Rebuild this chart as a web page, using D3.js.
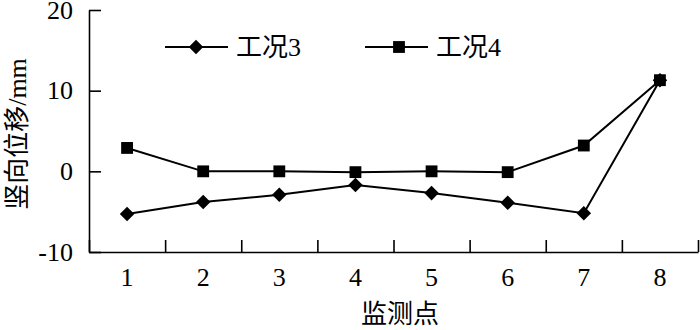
<!DOCTYPE html>
<html>
<head>
<meta charset="utf-8">
<script src="https://cdn.jsdelivr.net/npm/d3@7"></script>
<style>
  body { margin: 0; background: #fff; }
  text { font-family: "Liberation Serif", "Noto Sans CJK SC", serif; fill: #000; }
</style>
</head>
<body>
<div id="chart"></div>
<script>
// monitoring points and the two load cases
const points = ['1', '2', '3', '4', '5', '6', '7', '8'];
const case3 = [-5.3, -3.8, -2.9, -1.7, -2.7, -3.9, -5.2, 11.3];
const case4 = [2.9, 0, 0, -0.1, 0, -0.1, 3.2, 11.3];
const seriesNames = ['工况3', '工况4'];
const yTicks = [-10, 0, 10, 20];

const width = 700, height = 330;
const margin = { top: 10, right: 2, bottom: 78, left: 89 };
const w = width - margin.left - margin.right;
const h = height - margin.top - margin.bottom;
const fs = '26px';

const svg = d3.select('#chart').append('svg')
  .attr('width', width)
  .attr('height', height);

const g = svg.append('g')
  .attr('transform', `translate(${margin.left},${margin.top})`);

const x = d3.scaleBand().domain(points).range([0, w]);
const xEdge = d3.scaleLinear().domain([0, points.length]).range([0, w]);
const y = d3.scaleLinear().domain([-10, 20]).range([h, 0]);

// x axis: ticks on band edges pointing in, labels at band centres
g.append('g')
  .attr('transform', `translate(0,${h})`)
  .call(d3.axisBottom(xEdge).ticks(points.length).tickSizeInner(-12).tickSizeOuter(0).tickFormat(''));
const xLabels = g.append('g')
  .attr('transform', `translate(0,${h})`)
  .call(d3.axisBottom(x).tickSize(0).tickPadding(16));
xLabels.select('.domain').remove();
xLabels.selectAll('text').style('font-size', fs).attr('font-family', null);

const yAxis = g.append('g')
  .call(d3.axisLeft(y).tickValues(yTicks).tickSizeInner(-12).tickSizeOuter(0).tickPadding(16)
    .tickFormat(d => String(d)));
yAxis.selectAll('text').style('font-size', fs).attr('font-family', null);

g.selectAll('.domain, .tick line').attr('stroke', '#000').attr('stroke-width', 1.6);

// axis titles
svg.append('text')
  .attr('x', 400)
  .attr('y', 323)
  .attr('text-anchor', 'middle')
  .style('font-size', fs)
  .text('监测点');

svg.append('text')
  .attr('transform', `translate(26,134) rotate(-90)`)
  .attr('text-anchor', 'middle')
  .style('font-size', fs)
  .text('竖向位移/mm');

const line = d3.line()
  .x((d, i) => x(points[i]) + x.bandwidth() / 2)
  .y(d => y(d));

const diamond = d3.symbol().type(d3.symbolDiamond2).size(135);
const square = d3.symbol().type(d3.symbolSquare).size(140);

const series = [
  { name: seriesNames[0], values: case3, sym: diamond },
  { name: seriesNames[1], values: case4, sym: square }
];

// draw case 4 first so case 3's diamond sits on top at point 8
[series[1], series[0]].forEach(s => {
  g.append('path')
    .attr('d', line(s.values))
    .attr('fill', 'none')
    .attr('stroke', '#000')
    .attr('stroke-width', 2);
  g.selectAll(null)
    .data(s.values)
    .enter().append('path')
    .attr('d', s.sym)
    .attr('transform', (d, i) => `translate(${x(points[i]) + x.bandwidth() / 2},${y(d)})`)
    .attr('fill', '#000');
});

// legend
const legendX = [165, 365];
series.forEach((s, i) => {
  const lg = svg.append('g').attr('transform', `translate(${legendX[i]},47)`);
  lg.append('line')
    .attr('x1', 0).attr('x2', 63)
    .attr('stroke', '#000').attr('stroke-width', 2);
  lg.append('path')
    .attr('d', s.sym)
    .attr('transform', `translate(${i === 0 ? 31 : 34},0)`)
    .attr('fill', '#000');
  lg.append('text')
    .attr('x', 71)
    .attr('y', 9)
    .style('font-size', fs)
    .text(s.name);
});
</script>
</body>
</html>
